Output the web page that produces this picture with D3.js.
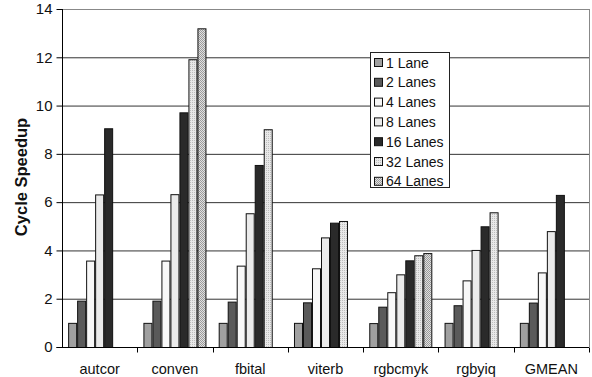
<!DOCTYPE html>
<html><head><meta charset="utf-8">
<script src="https://cdn.jsdelivr.net/npm/d3@7"></script>
<style>body{margin:0;background:#fff}svg{display:block;font-family:"Liberation Sans",Arial,sans-serif}</style>
</head><body><svg id="c" width="592" height="377"></svg>
<script>
const categories = ["autcor","conven","fbital","viterb","rgbcmyk","rgbyiq","GMEAN"];
const seriesNames = ["1 Lane","2 Lanes","4 Lanes","8 Lanes","16 Lanes","32 Lanes","64 Lanes"];
const lane1  = [1.0, 1.0, 1.0, 1.0, 0.99, 1.0, 1.0];
const lane2  = [1.92, 1.92, 1.88, 1.85, 1.67, 1.73, 1.84];
const lane4  = [3.58, 3.58, 3.37, 3.26, 2.27, 2.76, 3.09];
const lane8  = [6.32, 6.33, 5.54, 4.54, 3.01, 4.02, 4.80];
const lane16 = [9.06, 9.72, 7.54, 5.15, 3.59, 5.00, 6.30];
const lane32 = [null, 11.92, 9.02, 5.22, 3.80, 5.58, null];
const lane64 = [null, 13.2, null, null, 3.89, null, null];
const yTicks = [0,2,4,6,8,10,12,14];

const series = [lane1,lane2,lane4,lane8,lane16,lane32,lane64];
const fills = ["#a0a0a0","#5a5a5a","#f8f8f8","#ebebeb","#2a2a2a","url(#p32)","url(#p64)"];

const svg = d3.select("#c");
const defs = svg.append("defs");
const p32 = defs.append("pattern").attr("id","p32").attr("width",2).attr("height",2).attr("patternUnits","userSpaceOnUse");
p32.append("rect").attr("width",2).attr("height",2).attr("fill","#e8e8e8");
p32.append("rect").attr("width",1).attr("height",1).attr("fill","#bdbdbd");
const p64 = defs.append("pattern").attr("id","p64").attr("width",2).attr("height",2).attr("patternUnits","userSpaceOnUse");
p64.append("rect").attr("width",2).attr("height",2).attr("fill","#e0e0e0");
p64.append("rect").attr("width",1).attr("height",1).attr("fill","#9a9a9a");
p64.append("rect").attr("x",1).attr("y",1).attr("width",1).attr("height",1).attr("fill","#9a9a9a");

const L=62, R=589, T=9, B=347;
const x = d3.scaleBand().domain(categories).range([L,R]).paddingInner(0).paddingOuter(0);
const xi = d3.scaleBand().domain(d3.range(7)).range([0,x.bandwidth()]).paddingInner(0).paddingOuter(0.68);
const y = d3.scaleLinear().domain([0,14]).range([B,T]);

// grid
svg.append("g").selectAll("line").data(yTicks.filter(d=>d>0)).join("line")
  .attr("x1",L).attr("x2",R).attr("y1",d=>y(d)+0.5).attr("y2",d=>y(d)+0.5)
  .attr("stroke",d=>d===14?"#888":"#333").attr("stroke-width",1);
// right border
svg.append("line").attr("x1",R+0.5).attr("x2",R+0.5).attr("y1",T).attr("y2",B).attr("stroke","#888");

// bars
series.forEach((s,si)=>{
  svg.append("g").selectAll("rect").data(categories.map((c,i)=>({c,v:s[i]})).filter(d=>d.v!=null)).join("rect")
    .attr("x",d=>x(d.c)+xi(si)+0.5).attr("width",xi.bandwidth()-1)
    .attr("y",d=>y(d.v)+0.5).attr("height",d=>B-y(d.v))
    .attr("fill",fills[si]).attr("stroke","#111").attr("stroke-width",1);
});

// axes
const ya = svg.append("g").attr("transform",`translate(${L+0.5},0)`)
  .call(d3.axisLeft(y).tickValues(yTicks).tickSize(6).tickPadding(4).tickFormat(d3.format("d")));
ya.selectAll("text").attr("font-size",15).attr("fill","#111").attr("font-family","Liberation Sans, Arial, sans-serif");
ya.selectAll("line,path").attr("stroke","#000");
ya.select(".domain").attr("d",`M-6,${B+0.5}H0V${T}`);

const xa = svg.append("g").attr("transform",`translate(0,${B+0.5})`);
xa.append("line").attr("x1",L).attr("x2",R).attr("stroke","#000");
xa.selectAll("line.t").data(categories).join("line").attr("class","t")
  .attr("x1",d=>Math.round(x(d)+x.bandwidth())+0.5).attr("x2",d=>Math.round(x(d)+x.bandwidth())+0.5)
  .attr("y1",0).attr("y2",5).attr("stroke","#000");
xa.selectAll("text").data(categories).join("text")
  .attr("x",d=>x(d)+x.bandwidth()/2).attr("y",26).attr("text-anchor","middle")
  .attr("font-size",14.5).attr("fill","#111").text(d=>d);

svg.append("text").attr("transform",`translate(27,177) rotate(-90)`)
  .attr("text-anchor","middle").attr("font-size",16.5).attr("font-weight","bold").attr("fill","#111").text("Cycle Speedup");

// legend
const lg = svg.append("g").attr("transform","translate(370,52)");
lg.append("rect").attr("x",0.5).attr("y",0.5).attr("width",79).attr("height",135).attr("fill","#fff").attr("stroke","#222");
seriesNames.forEach((n,i)=>{
  const cy = 10.5 + i*19.8;
  lg.append("rect").attr("x",4.5).attr("y",cy-4).attr("width",8).attr("height",8).attr("fill",fills[i]).attr("stroke","#111");
  lg.append("text").attr("x",16).attr("y",cy+5).attr("font-size",14).attr("fill","#111").text(n);
});
</script></body></html>
